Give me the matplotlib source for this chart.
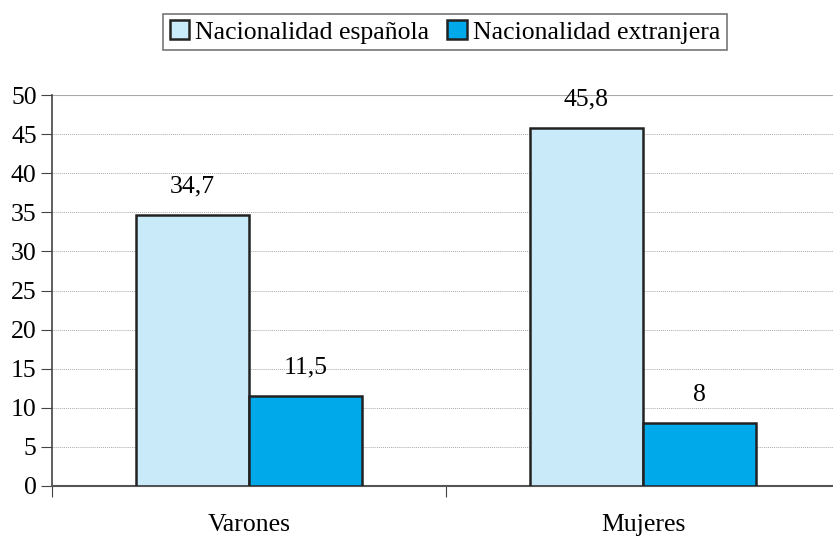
import numpy as np
import matplotlib.pyplot as plt

categorias = ['Varones', 'Mujeres']
espanola = [34.7, 45.8]
extranjera = [11.5, 8]
etiquetas_esp = ['34,7', '45,8']
etiquetas_ext = ['11,5', '8']

plt.rcParams['font.family'] = ['Liberation Serif', 'DejaVu Serif']

fig = plt.figure(figsize=(8.33, 5.38), dpi=100)
ax = fig.add_axes([52/833, 52/538, 788/833, 391/538])

x = np.arange(len(categorias))
w = 0.287
b1 = ax.bar(x - w/2, espanola, w, color='#C8EAF9', edgecolor='#222222', linewidth=1.8,
            label='Nacionalidad española', zorder=3)
b2 = ax.bar(x + w/2, extranjera, w, color='#00AAEA', edgecolor='#222222', linewidth=1.8,
            label='Nacionalidad extranjera', zorder=3)

for xi, v, t in zip(x - w/2, espanola, etiquetas_esp):
    ax.text(xi, v + 3.6, t, ha='center', va='center', fontsize=18.5)
for xi, v, t in zip(x + w/2, extranjera, etiquetas_ext):
    ax.text(xi, v + 3.6, t, ha='center', va='center', fontsize=18.5)

ax.set_xlim(-0.5, 1.5)
ax.set_ylim(0, 50)
ax.set_yticks(np.arange(0, 51, 5))
ax.set_xticks([-0.5, 0.5, 1.5])
ax.set_xticklabels([])
ax.set_xticks(x, minor=True)
ax.set_xticklabels(categorias, minor=True, fontsize=18.5)
ax.tick_params(axis='x', which='minor', length=0, pad=20)
ax.tick_params(axis='x', which='major', length=8, direction='out', color='#444444')
ax.tick_params(axis='y', length=8, direction='out', color='#444444', labelsize=18.5, pad=3)

for yv in np.arange(5, 50, 5):
    ax.axhline(yv, color='#AAAAAA', linestyle=(0, (1, 1)), linewidth=0.7, zorder=1)
ax.axhline(50, color='#AAAAAA', linewidth=1.5, zorder=1)

ax.spines['top'].set_visible(False)
ax.spines['right'].set_visible(False)
ax.spines['left'].set_color('#444444')
ax.spines['bottom'].set_color('#555555')
ax.spines['left'].set_linewidth(1.2)
ax.spines['bottom'].set_linewidth(1.5)

leg = fig.legend(loc='center', bbox_to_anchor=(445/833, 1 - 32/538), ncol=2, fontsize=18.5,
                 frameon=True, fancybox=False, edgecolor='#555555', handlelength=0.75,
                 handleheight=0.75, handletextpad=0.25, columnspacing=0.7,
                 borderpad=0.25, borderaxespad=0)
leg.get_frame().set_linewidth(1.2)

fig.savefig('out.png', dpi=100)
